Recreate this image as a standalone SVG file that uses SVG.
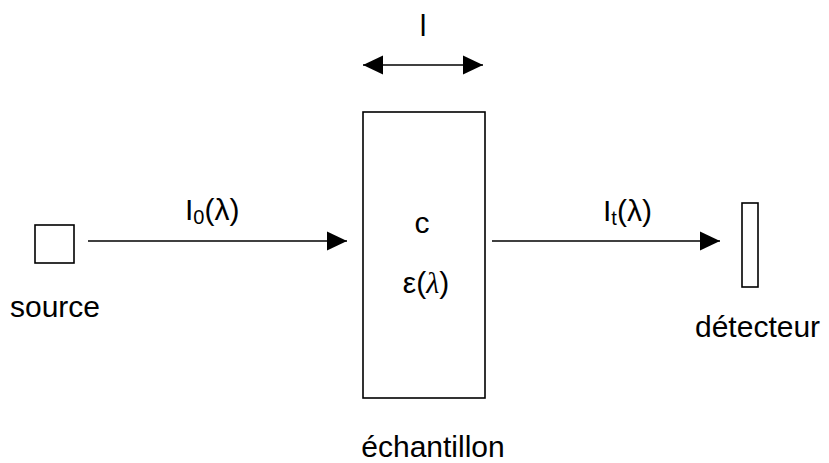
<svg xmlns="http://www.w3.org/2000/svg" width="829" height="463" viewBox="0 0 829 463">
<style>
text{font-family:"Liberation Sans",Arial,sans-serif;font-size:30px;fill:#000}
.box{fill:#fff;stroke:#000;stroke-width:1.6}
.ln{stroke:#000;stroke-width:1.6;fill:none}
.it{font-family:"Liberation Serif","Times New Roman",serif;font-style:italic}
</style>
<defs>
<marker id="ah" markerUnits="userSpaceOnUse" markerWidth="22" markerHeight="22" refX="20" refY="10" orient="auto-start-reverse" viewBox="0 0 22 20">
<path d="M0,0.5 L20,10 L0,19.5 Z" fill="#000"/>
</marker>
</defs>
<rect width="829" height="463" fill="#fff"/>
<g id="source">
<rect class="box" x="35" y="225" width="39" height="38"/>
<text x="10" y="317">source</text>
</g>
<g id="echantillon">
<rect class="box" x="363" y="112" width="122" height="286"/>
<text x="422" y="233" text-anchor="middle">c</text>
<text x="426" y="293" text-anchor="middle">ε(<tspan class="it">λ</tspan>)</text>
<text x="433" y="457" text-anchor="middle">échantillon</text>
</g>
<g id="detecteur">
<rect class="box" x="742" y="203" width="16" height="84"/>
<text x="695" y="337">détecteur</text>
</g>
<g id="longueur">
<text x="423" y="36" text-anchor="middle">l</text>
</g>
<g id="connectors">
<line class="ln" x1="88" y1="241" x2="347" y2="241" marker-end="url(#ah)"/>
<line class="ln" x1="492" y1="241" x2="720" y2="241" marker-end="url(#ah)"/>
<line class="ln" x1="363" y1="65" x2="483" y2="65" marker-start="url(#ah)" marker-end="url(#ah)"/>
<text x="185" y="220">I<tspan font-size="20" dy="4">0</tspan><tspan dy="-4">(λ)</tspan></text>
<text x="603" y="221">I<tspan font-size="20" dy="4">t</tspan><tspan dy="-4">(λ)</tspan></text>
</g>
</svg>
